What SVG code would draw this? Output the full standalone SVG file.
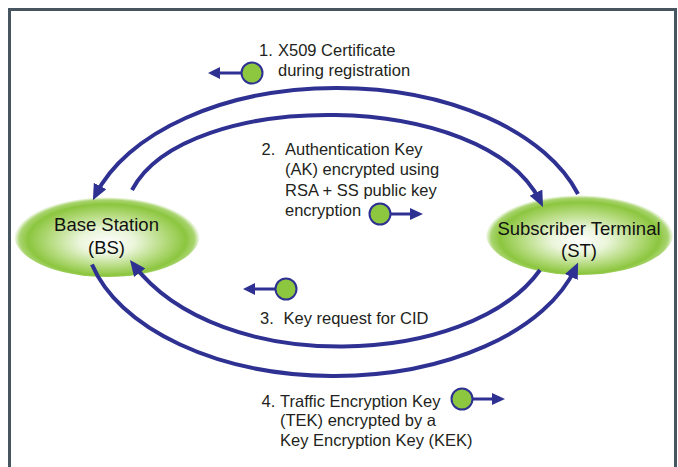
<svg xmlns="http://www.w3.org/2000/svg" width="678" height="467" viewBox="0 0 678 467">
<style>
.lbl{font-family:"Liberation Sans",Arial,sans-serif;font-size:16.5px;fill:#231f20}
.node{font-family:"Liberation Sans",Arial,sans-serif;font-size:18.5px;fill:#111111;text-anchor:middle}
.conn{fill:none;stroke:#2e3192;stroke-width:4;marker-end:url(#ah)}
.dot{fill:#8dc63f;stroke:#2e3192;stroke-width:2}
.ind{stroke:#2e3192;stroke-width:3}
.tri{fill:#2e3192}
.blob{fill:url(#g)}
</style>
<defs>
<radialGradient id="g" cx="0.5" cy="0.55" r="0.5" fx="0.5" fy="0.6">
<stop offset="0" stop-color="#ffffff"/>
<stop offset="0.3" stop-color="#eaf5da"/>
<stop offset="0.62" stop-color="#b5db7e"/>
<stop offset="0.85" stop-color="#8cc63f"/>
<stop offset="0.94" stop-color="#8cc63f" stop-opacity="0.75"/>
<stop offset="1" stop-color="#8cc63f" stop-opacity="0"/>
</radialGradient>
<marker id="ah" markerUnits="userSpaceOnUse" markerWidth="16" markerHeight="14" viewBox="0 0 16 14" refX="10" refY="7" orient="auto">
<path d="M0,0 L16,7 L0,14 z" fill="#2e3192"/>
</marker>
</defs>
<rect x="0" y="0" width="678" height="467" fill="#ffffff"/>
<rect x="9.5" y="9.5" width="666" height="470" fill="#ffffff" stroke="#46555f" stroke-width="3"/>
<g id="node-bs">
<ellipse class="blob" cx="107" cy="235" rx="93" ry="42"/>
<text class="node" x="106.5" y="231">Base Station</text>
<text class="node" x="106.5" y="254">(BS)</text>
</g>
<g id="node-st">
<ellipse class="blob" cx="579.5" cy="233" rx="94" ry="42"/>
<text class="node" x="579" y="235">Subscriber Terminal</text>
<text class="node" x="579" y="257">(ST)</text>
</g>
<g id="connectors">
<path class="conn" d="M578,194 A252,150 0 0 0 95.6,194.9"/>
<path class="conn" d="M132,190 C185,88 485,88 540.4,201.6"/>
<path class="conn" d="M540,270 C470,368 220,378 133.6,264.8"/>
<path class="conn" d="M92,264.5 A250,147 0 0 0 575.6,268"/>
</g>
<g id="label-1">
<line class="ind" x1="241" y1="73" x2="219" y2="73"/>
<polygon class="tri" points="208,73 220,67 220,79"/>
<circle class="dot" cx="252" cy="73" r="10.5"/>
<text class="lbl" x="259" y="55.5">1.</text>
<text class="lbl" x="278" y="55.5">X509 Certificate</text>
<text class="lbl" x="278" y="76">during registration</text>
</g>
<g id="label-2">
<line class="ind" x1="391" y1="214" x2="411" y2="214"/>
<polygon class="tri" points="423,214 410,208 410,220"/>
<circle class="dot" cx="380" cy="214" r="10.5"/>
<text class="lbl" x="261.5" y="154.5">2.</text>
<text class="lbl" x="285" y="154.5">Authentication Key</text>
<text class="lbl" x="285" y="175">(AK) encrypted using</text>
<text class="lbl" x="285" y="195.5">RSA + SS public key</text>
<text class="lbl" x="285" y="215.5">encryption</text>
</g>
<g id="label-3">
<line class="ind" x1="275" y1="289" x2="254" y2="289"/>
<polygon class="tri" points="243,289 255,283 255,295"/>
<circle class="dot" cx="286" cy="289" r="10.5"/>
<text class="lbl" x="260" y="323.5">3.</text>
<text class="lbl" x="283.5" y="323.5">Key request for CID</text>
</g>
<g id="label-4">
<line class="ind" x1="473" y1="399" x2="493" y2="399"/>
<polygon class="tri" points="505,399 492,393 492,405"/>
<circle class="dot" cx="462" cy="399" r="10.5"/>
<text class="lbl" x="261.5" y="406.5">4.</text>
<text class="lbl" x="280" y="406.5">Traffic Encryption Key</text>
<text class="lbl" x="280" y="426">(TEK) encrypted by a</text>
<text class="lbl" x="280" y="446">Key Encryption Key (KEK)</text>
</g>
</svg>
